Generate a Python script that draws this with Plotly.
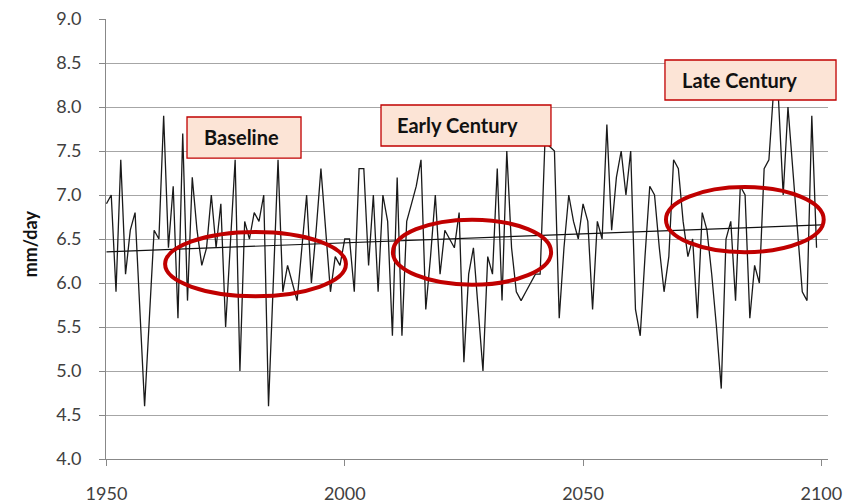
import numpy as np
import plotly.graph_objects as go

# Annual precipitation series (mm/day), 1950 onward
years = list(range(1950, 2100))
precip = [
    6.9, 7.0, 5.9, 7.4, 6.1, 6.6, 6.8, 5.7, 4.6, 5.6,   # 1950s
    6.6, 6.5, 7.9, 6.4, 7.1, 5.6, 7.7, 5.8, 7.2, 6.6,   # 1960s
    6.2, 6.4, 7.0, 6.4, 6.9, 5.5, 6.4, 7.4, 5.0, 6.7,   # 1970s
    6.5, 6.8, 6.7, 7.0, 4.6, 6.0, 7.4, 5.9, 6.2, 6.0,   # 1980s
    5.8, 6.4, 7.0, 6.0, 6.6, 7.3, 6.6, 5.9, 6.3, 6.2,   # 1990s
    6.5, 6.5, 5.9, 7.3, 7.3, 6.2, 7.0, 5.9, 7.0, 6.7,   # 2000s
    5.4, 7.2, 5.4, 6.7, 6.9, 7.1, 7.4, 5.7, 6.3, 7.0,   # 2010s
    6.1, 6.6, 6.5, 6.4, 6.8, 5.1, 6.1, 6.4, 5.7, 5.0,   # 2020s
    6.3, 6.1, 7.3, 5.8, 7.5, 6.4, 5.9, 5.8, 5.9, 6.0,   # 2030s
    6.1, 6.1, 7.6, 7.55, 7.5, 5.6, 6.4, 7.0, 6.7, 6.5,  # 2040s
    6.9, 6.7, 5.7, 6.7, 6.5, 7.8, 6.6, 7.2, 7.5, 7.0,   # 2050s
    7.5, 5.7, 5.4, 6.3, 7.1, 7.0, 6.4, 5.9, 6.3, 7.4,   # 2060s
    7.3, 6.7, 6.3, 6.5, 5.6, 6.8, 6.6, 6.1, 5.5, 4.8,   # 2070s
    6.5, 6.7, 5.8, 7.1, 7.0, 5.6, 6.2, 6.0, 7.3, 7.4,   # 2080s
    8.2, 8.1, 7.0, 8.0, 7.3, 6.7, 5.9, 5.8, 7.9, 6.4,   # 2090s
]

period_labels = ["Baseline", "Early Century", "Late Century"]
x_ticks = [1950, 2000, 2050, 2100]
y_ticks = [4.0, 4.5, 5.0, 5.5, 6.0, 6.5, 7.0, 7.5, 8.0, 8.5, 9.0]

# Linear trend through the series
slope, intercept = np.polyfit(years, precip, 1)
trend_x = [years[0], 2100]
trend_y = [slope * x + intercept for x in trend_x]

RED = "#C00000"
TICK_FONT = dict(family="Lato", size=18, color="#404040")

fig = go.Figure()
fig.add_trace(go.Scatter(
    x=years, y=precip, mode="lines",
    line=dict(color="#1a1a1a", width=1.3),
    hoverinfo="x+y", showlegend=False,
))
fig.add_trace(go.Scatter(
    x=trend_x, y=trend_y, mode="lines",
    line=dict(color="#111111", width=1.2),
    hoverinfo="skip", showlegend=False,
))

# Ellipses around the three reference periods
ellipses = [
    (1962.3, 2000.25, 5.85, 6.58),
    (2010.1, 2043.3, 5.98, 6.72),
    (2067.4, 2100.5, 6.35, 7.09),
]
for x0, x1, y0, y1 in ellipses:
    fig.add_shape(type="circle", xref="x", yref="y",
                  x0=x0, x1=x1, y0=y0, y1=y1,
                  line=dict(color=RED, width=4))

# Labelled boxes for each period (paper coordinates)
boxes = [
    (0.1122, 0.2701, 0.684, 0.7773, 0.133, 0.7307),
    (0.3809, 0.6163, 0.7114, 0.8045, 0.4003, 0.758),
    (0.7742, 1.0111, 0.8159, 0.9068, 0.795, 0.8614),
]
for label, (bx0, bx1, by0, by1, tx, ty) in zip(period_labels, boxes):
    fig.add_shape(type="rect", xref="paper", yref="paper",
                  x0=bx0, x1=bx1, y0=by0, y1=by1,
                  fillcolor="#FCE4D6", line=dict(color=RED, width=1.3),
                  layer="above")
    fig.add_annotation(x=tx, y=ty, xref="paper", yref="paper",
                       text="<b>%s</b>" % label, showarrow=False,
                       xanchor="left", yanchor="middle",
                       font=dict(family="Lato", size=20, color="#111111"))

# Y-axis title
fig.add_annotation(x=-0.1053, y=0.49, xref="paper", yref="paper",
                   text="<b>mm/day</b>", showarrow=False, textangle=-90,
                   xanchor="center", yanchor="middle",
                   font=dict(family="Lato", size=18, color="#111111"))

fig.update_layout(
    width=862, height=504,
    margin=dict(l=106, r=34, t=19, b=45),
    paper_bgcolor="white", plot_bgcolor="white",
    xaxis=dict(
        range=[1949.9, 2101.4], automargin=False,
        tickvals=x_ticks, ticktext=[str(v) for v in x_ticks],
        ticks="outside", ticklen=6, tickcolor="#888888",
        showgrid=False, zeroline=False,
        showline=True, linecolor="#888888", linewidth=1,
        tickfont=TICK_FONT, ticklabelstandoff=12,
    ),
    yaxis=dict(
        range=[4.0, 9.0], automargin=False,
        tickvals=y_ticks, ticktext=["%.1f" % v for v in y_ticks],
        ticks="outside", ticklen=6, tickcolor="#888888",
        showgrid=True, gridcolor="#A6A6A6", gridwidth=1,
        zeroline=False,
        showline=True, linecolor="#888888", linewidth=1,
        tickfont=TICK_FONT, ticklabelstandoff=14,
    ),
)

fig.write_html("out.html")
